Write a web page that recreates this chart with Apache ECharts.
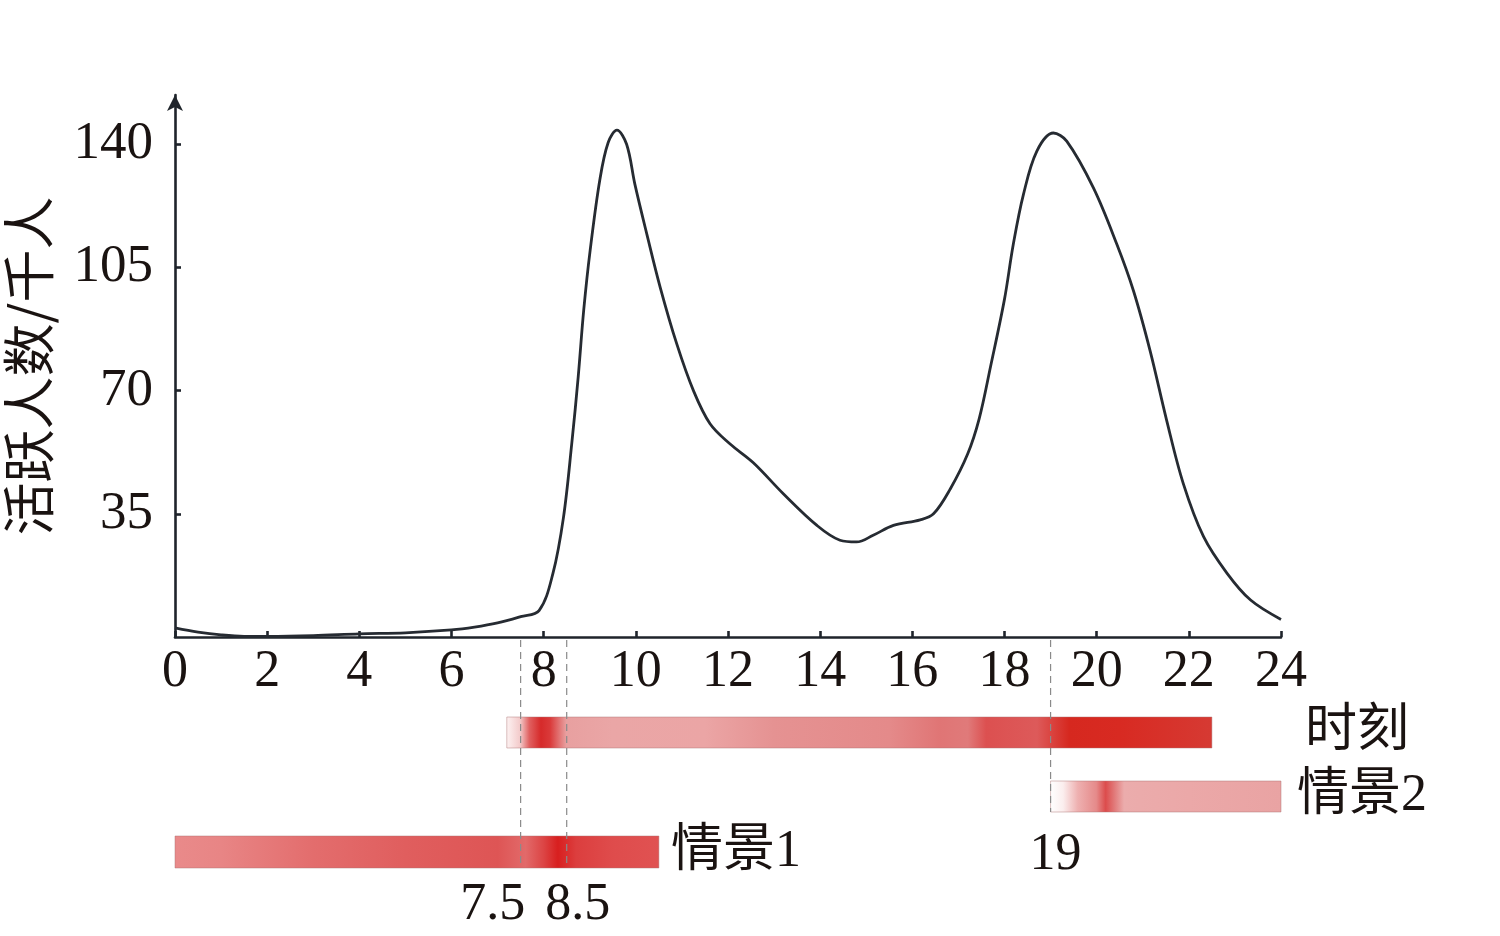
<!DOCTYPE html>
<html><head><meta charset="utf-8">
<script src="https://cdn.jsdelivr.net/npm/echarts@6/dist/echarts.min.js"></script>
<style>html,body{margin:0;padding:0;background:#fff}#c{width:1500px;height:936px}</style>
</head><body><div id="c"></div>
<script>
// ---------- data ----------
const hours = [0,0.5,1,1.5,2,3,4,5,6,6.5,7,7.5,7.9,8.2,8.43,8.61,8.75,8.87,9.01,9.22,9.4,9.59,9.8,9.98,10.24,10.53,10.89,11.25,11.61,12.04,12.55,13.2,13.93,14.43,14.79,15.15,15.59,16.17,16.46,16.82,17.2,17.45,17.7,18.0,18.19,18.41,18.7,19.06,19.35,19.93,20.44,20.8,21.16,21.52,21.88,22.32,22.83,23.34,24];
const activeUsers = [2.6,1.4,0.6,0.2,0.2,0.4,0.9,1.2,2.0,2.8,4.0,5.8,7.5,18,34,55,74,93,110,130,140.5,144,140,128.6,114.4,99.3,83.2,70,60.6,54.9,49.5,40.7,31.7,27.5,27.0,28.9,31.7,33.3,35.0,42,52,62,77,96,111.5,125.7,138,143.2,140.9,127.6,111.5,98.3,81.3,61.5,43.6,28.5,18.1,10.5,5.0];
const yTickValues = [35,70,105,140];

const barNames = ['时刻','情景2','情景1'];
const barStart = [7.2, 19.0, 0];
const barEnd   = [22.5, 24, 10.5];

const markHours  = [7.5, 8.5, 19];
const markLabels = ['7.5','8.5','19'];
const markRow    = [2, 2, 1];   // which bar the dashed guide runs down to

// ---------- styles / layout ----------
const INK = '#1a1311';
const SERIF = "'Liberation Serif','Noto Sans CJK SC',serif";
const PLOT = {left:175, right:219, top:95, bottom:299};
const ROWS = [{top:717,h:31,labelDx:93},{top:781,h:31,labelDx:16},{top:836,h:32,labelDx:12}];
const MARK_STYLE = [{dx:-28, y:905},{dx:11, y:905},{dx:5, y:855}];
const GRADS = [
  [[7.2,'#fdf3f3'],[7.5,'#f3caca'],[7.7,'#e06060'],[7.95,'#d62a2a'],[8.15,'#da3a3a'],[8.5,'#e8a0a0'],[9.5,'#eaa6a6'],[11.5,'#eba5a5'],[13,'#e59292'],[15.5,'#e48a8a'],[16.6,'#e07575'],[17.2,'#e07a7a'],[17.6,'#dc5050'],[18.7,'#dd5a5a'],[19.4,'#d6281f'],[20.5,'#d82a22'],[22.5,'#d63a33']],
  [[19.0,'#ffffff'],[19.28,'#fbeeee'],[19.6,'#eeb0b0'],[20.0,'#e58a8a'],[20.2,'#dc4c4c'],[20.4,'#e27c7c'],[20.6,'#ebacac'],[22,'#eba8a8'],[24,'#e9a3a3']],
  [[0,'#e98a8a'],[1,'#e88585'],[3,'#e36d6d'],[5,'#e05e5e'],[7,'#de5555'],[7.6,'#e26a6a'],[8.0,'#dc4444'],[8.3,'#d81f1f'],[8.7,'#dc3e3e'],[9.5,'#df4c4c'],[10.5,'#e05252']]
];

const chart = echarts.init(document.getElementById('c'));

const grids = [{left:PLOT.left, right:PLOT.right, top:PLOT.top, bottom:PLOT.bottom, outerBoundsMode:'none', containLabel:false}];
ROWS.forEach(r => grids.push({left:PLOT.left, right:PLOT.right, top:r.top, height:r.h, outerBoundsMode:'none'}));
grids.push({left:PLOT.left, right:PLOT.right, top:640, height:228, outerBoundsMode:'none'}); // overlay for guides

const xAxes = [{
  type:'value', gridIndex:0, min:0, max:24, interval:2,
  axisLine:{lineStyle:{color:'#1f242b', width:2.6}},
  axisTick:{inside:true, length:6, lineStyle:{color:'#1f242b', width:2.6}},
  axisLabel:{color:INK, fontFamily:SERIF, fontSize:52, margin:9},
  splitLine:{show:false}
}];
const yAxes = [{
  type:'value', gridIndex:0, min:0, max:154, interval:35,
  name:'活跃人数/千人', nameLocation:'middle', nameRotate:90, nameGap:120,
  nameTextStyle:{color:INK, fontFamily:"'Noto Sans CJK SC',sans-serif", fontSize:53},
  axisLine:{show:true, symbol:['none','arrow'], symbolSize:[12,16], lineStyle:{color:'#1f242b', width:2.6}},
  axisTick:{show:true, inside:true, length:6, customValues:yTickValues, lineStyle:{color:'#1f242b', width:2.6}},
  axisLabel:{color:INK, fontFamily:SERIF, fontSize:53, margin:22, customValues:yTickValues,
    formatter: v => yTickValues.includes(v) ? String(v) : ''},
  splitLine:{show:false}
}];
for (let i = 1; i <= 4; i++) {
  xAxes.push({type:'value', gridIndex:i, min:0, max:24, show:false});
  yAxes.push(i <= 3
    ? {type:'category', gridIndex:i, data:[barNames[i-1]], show:false}
    : {type:'value', gridIndex:i, min:0, max:1, show:false});
}

const series = [{
  type:'line', xAxisIndex:0, yAxisIndex:0,
  data: hours.map((h,i)=>[h, activeUsers[i]]),
  smooth:0.35, showSymbol:false,
  lineStyle:{color:'#262b32', width:2.8}, z:5
}];

barNames.forEach((name, i) => {
  series.push({
    type:'custom', xAxisIndex:i+1, yAxisIndex:i+1,
    data:[[barStart[i], barEnd[i], 0]],
    encode:{x:[0,1], y:2},
    renderItem:(params, api) => {
      const s = api.value(0), e = api.value(1);
      const x0 = api.coord([s, 0])[0];
      const x1 = api.coord([e, 0])[0];
      const cs = params.coordSys;
      const stops = GRADS[i].map(([h,c]) => ({offset: Math.min(1, Math.max(0, (h - s)/(e - s))), color:c}));
      return {type:'group', children:[
        {type:'rect', shape:{x:x0, y:cs.y, width:x1-x0, height:cs.height},
         style:{fill:new echarts.graphic.LinearGradient(0,0,1,0,stops), stroke:'rgba(170,110,110,0.45)', lineWidth:1}},
        {type:'text', x: x1 + ROWS[i].labelDx, y: cs.y + cs.height/2,
         style:{text:name, fill:INK, font:"52px 'Liberation Serif','Noto Sans CJK SC',serif", verticalAlign:'middle', align:'left'}}
      ]};
    }
  });
});

series.push({
  type:'custom', xAxisIndex:4, yAxisIndex:4,
  data: markHours.map((h,i)=>[h, 0, i]),
  encode:{x:0, y:1},
  z:10,
  renderItem:(params, api) => {
    const idx = api.value(2);
    const x = api.coord([api.value(0), 0])[0];
    const cs = params.coordSys;
    const r = ROWS[markRow[idx]];
    const st = MARK_STYLE[idx];
    return {type:'group', children:[
      {type:'line', shape:{x1:x, y1:cs.y, x2:x, y2:r.top + r.h},
       style:{stroke:'#8a8a8a', lineWidth:1.2, lineDash:[7,5]}},
      {type:'text', x: x + st.dx, y: st.y,
       style:{text:markLabels[idx], fill:INK, font:"52px 'Liberation Serif',serif", align:'center', verticalAlign:'middle'}}
    ]};
  }
});

chart.setOption({
  animation:false,
  backgroundColor:'#fff',
  grid:grids, xAxis:xAxes, yAxis:yAxes, series:series
});
</script></body></html>
